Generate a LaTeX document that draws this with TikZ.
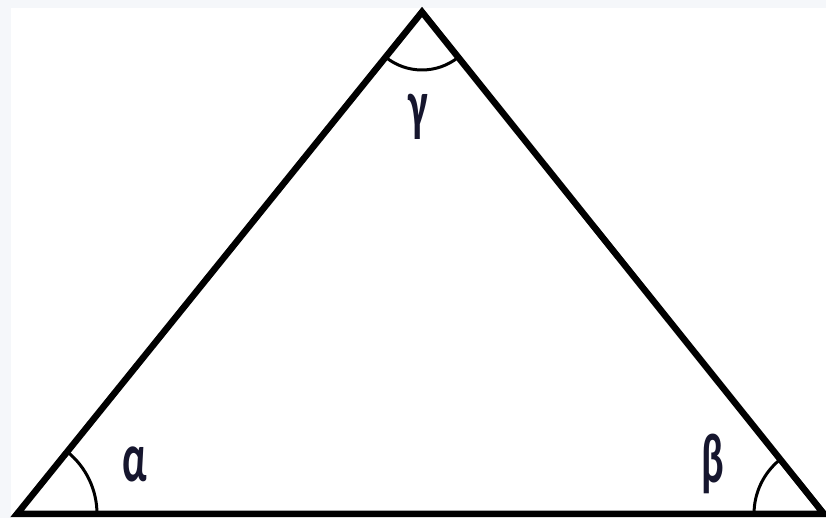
\documentclass[tikz,border=0pt]{standalone}
\usepackage{fontspec}
\setmainfont{Carlito}
\usepackage{tikz}
\usepackage{xcolor}
\usetikzlibrary{positioning,calc}
\definecolor{ink}{HTML}{16162E}
\definecolor{haze}{HTML}{F5F7FA}
\newcommand{\tallglyph}[1]{\scalebox{0.8}[1.35]{#1}}

\begin{document}
\begin{tikzpicture}[x=1pt,y=1pt,
    side/.style={line width=6.5pt,line join=miter},
    anglearc/.style={line width=3pt},
    anglelab/.style={font=\fontsize{52}{52}\selectfont\bfseries,text=ink,inner sep=0pt}]
  % canvas: faint tinted margin on the left and top
  \fill[haze] (0,0) rectangle (826,518);
  \fill[white] (11,0) rectangle (826,510);
  \useasboundingbox (0,0) rectangle (826,518);
  % corners
  \coordinate (A) at (17,4);
  \coordinate (B) at (824,4);
  \coordinate (C) at (422,506);
  \draw[side] (A) -- (B) -- (C) -- cycle;
  % angle marks
  \draw[anglearc] ($(A)+(80,0)$) arc[start angle=0,end angle=51,radius=80];
  \draw[anglearc] ($(B)+(-70,0)$) arc[start angle=180,end angle=128.7,radius=70];
  \draw[anglearc] ($(C)+(231.1:58)$) arc[start angle=231.1,end angle=308.7,radius=58];
  % labels
  \node[anglelab] (alpha) at (135,54) {\tallglyph{α}};
  \node[anglelab] (beta) at (713,54) {\tallglyph{β}};
  \node[anglelab] (gamma) at (418,401) {\tallglyph{γ}};
\end{tikzpicture}
\end{document}
